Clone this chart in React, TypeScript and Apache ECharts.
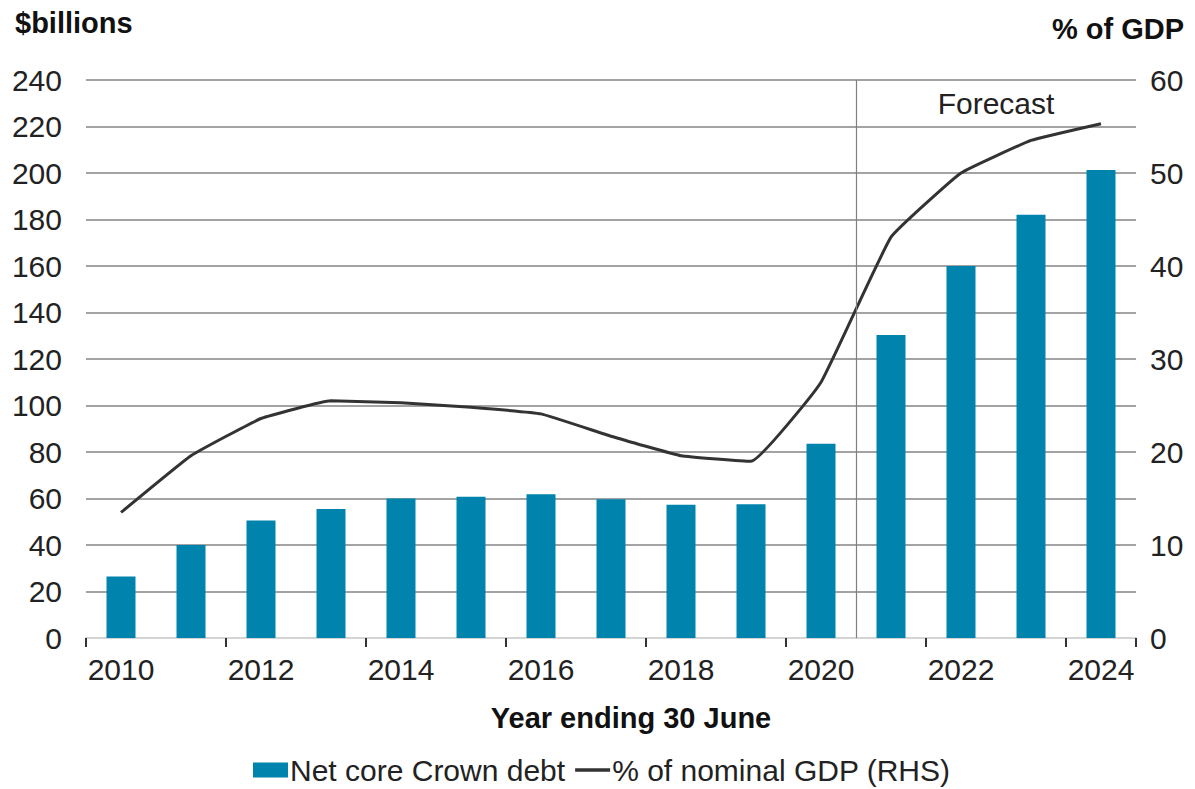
import React, { useEffect, useRef } from "react";
import * as echarts from "echarts";

const years = ["2010", "2011", "2012", "2013", "2014", "2015", "2016", "2017", "2018", "2019", "2020", "2021", "2022", "2023", "2024"];
const netDebt = [26.5, 40, 50.5, 55.5, 60, 60.8, 61.8, 59.7, 57.3, 57.5, 83.5, 130.3, 160, 182, 201.3];
const pctGdp = [13.5, 19.6, 23.6, 25.5, 25.3, 24.8, 24.1, 21.7, 19.6, 19.0, 27.5, 43.1, 50.0, 53.5, 55.3];
const forecastStart = 11;
const forecastEnd = 15;

const FONT = "'Liberation Sans', Arial, sans-serif";

export default function App() {
  const ref = useRef<HTMLDivElement>(null);
  useEffect(() => {
    if (!ref.current) return;
    const chart = echarts.init(ref.current, null, { renderer: "svg" });
    chart.setOption({
      animation: false,
      backgroundColor: "#ffffff",
      textStyle: { fontFamily: FONT },
      grid: { left: 86, right: 59, top: 80, bottom: 151, containLabel: false },
      legend: {
        left: 253,
        top: 755,
        padding: 0,
        itemWidth: 35,
        itemHeight: 15,
        itemGap: 10,
        textStyle: { fontSize: 30, lineHeight: 30, color: "#222", fontFamily: FONT, padding: [0, 0, 0, -3] },
        data: [
          { name: "Net core Crown debt", icon: "rect" },
          { name: "% of nominal GDP (RHS)", icon: "path://M0,0 L32,0 L32,3 L0,3 Z" },
        ],
      },
      xAxis: [
        {
          type: "category",
          data: years,
          boundaryGap: true,
          axisLine: { show: true, lineStyle: { color: "#d4d4d4", width: 2 } },
          axisTick: { show: true, interval: 1, length: 9, lineStyle: { color: "#333", width: 2 } },
          axisLabel: { interval: 1, fontSize: 30, color: "#222", margin: 16, fontFamily: FONT },
          splitLine: { show: false },
        },
        {
          type: "value",
          min: 0,
          max: 15,
          show: false,
          splitLine: { show: false },
        },
      ],
      yAxis: [
        {
          type: "value",
          min: 0,
          max: 240,
          interval: 20,
          axisLine: { show: false },
          axisTick: { show: false },
          axisLabel: { fontSize: 30, color: "#222", margin: 24, fontFamily: FONT },
          splitLine: { show: true, showMinLine: false, lineStyle: { color: "#858585", width: 1.6 } },
        },
        {
          type: "value",
          min: 0,
          max: 60,
          interval: 10,
          position: "right",
          axisLine: { show: false },
          axisTick: { show: false },
          axisLabel: { fontSize: 30, color: "#222", margin: 14, fontFamily: FONT },
          splitLine: { show: false },
        },
      ],
      series: [
        {
          name: "Net core Crown debt",
          type: "bar",
          data: netDebt,
          barWidth: 29,
          itemStyle: { color: "#0083AC" },
          z: 3,
        },
        {
          name: "% of nominal GDP (RHS)",
          type: "line",
          yAxisIndex: 1,
          data: pctGdp,
          symbol: "none",
          smooth: 0.1,
          lineStyle: { color: "#333333", width: 3 },
          itemStyle: { color: "#333333" },
          z: 4,
        },
        {
          name: "forecast",
          type: "line",
          xAxisIndex: 1,
          yAxisIndex: 0,
          data: [],
          symbol: "none",
          silent: true,
          markLine: {
            silent: true,
            symbol: "none",
            label: { show: false },
            lineStyle: { color: "#808080", width: 1.2, type: "solid" },
            data: [{ xAxis: forecastStart }],
          },
          markArea: {
            silent: true,
            itemStyle: { color: "rgba(0,0,0,0)" },
            label: {
              show: true,
              position: "inside",
              color: "#222",
              fontSize: 30,
              fontFamily: FONT,
            },
            data: [[{ name: "Forecast", xAxis: forecastStart, yAxis: 240 }, { xAxis: forecastEnd, yAxis: 220 }]],
          },
        },
      ],
      graphic: [
        {
          type: "text",
          left: 15,
          top: 8,
          style: { text: "$billions", fontSize: 29, fontWeight: "bold", fill: "#111", fontFamily: FONT },
        },
        {
          type: "text",
          right: 11,
          top: 14,
          style: { text: "% of GDP", fontSize: 29, fontWeight: "bold", fill: "#111", fontFamily: FONT },
        },
        {
          type: "text",
          x: 631,
          y: 718,
          style: {
            text: "Year ending 30 June",
            fontSize: 29,
            fontWeight: "bold",
            fill: "#111",
            fontFamily: FONT,
            align: "center",
            verticalAlign: "middle",
          },
        },
      ],
    });
    return () => chart.dispose();
  }, []);
  return <div ref={ref} style={{ position: "fixed", left: 0, top: 0, width: 1195, height: 789 }} />;
}
